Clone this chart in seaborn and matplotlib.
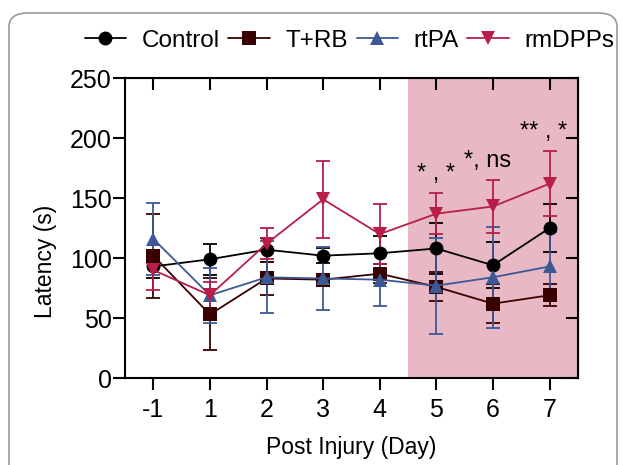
import numpy as np
import pandas as pd
import matplotlib
matplotlib.use('Agg')
import matplotlib.pyplot as plt
import seaborn as sns
from matplotlib.patches import FancyBboxPatch

# values
days = ['-1', '1', '2', '3', '4', '5', '6', '7']
groups = ['Control', 'T+RB', 'rtPA', 'rmDPPs']
control = [93, 99, 107, 102, 104, 108, 94, 125]
control_err = [10, 13, 10, 6, 14, 21, 19, 20]
trb = [102, 53, 83, 82, 87, 76, 62, 69]
trb_err = [35, 30, 14, 4, 8, 12, 16, 9]
rtpa = [116, 69, 84, 83, 82, 77, 84, 93]
rtpa_err = [30, 23, 30, 26, 22, 40, 42, 29]
rmdpps = [90, 69, 112, 149, 120, 137, 143, 162]
rmdpps_err = [17, 11, 13, 32, 25, 17, 22, 27]
stars = {'5': '* , *', '6': '*, ns', '7': '** , *'}

colors = ['#000000', '#3a0000', '#3c5995', '#b81e48']
markers = ['o', 's', '^', 'v']

means = [control, trb, rtpa, rmdpps]
errs = [control_err, trb_err, rtpa_err, rmdpps_err]

rows = []
for g, m, e in zip(groups, means, errs):
    for i, d in enumerate(days):
        rows.append({'group': g, 'pos': i, 'day': d, 'latency': m[i], 'err': e[i]})
df = pd.DataFrame(rows)

sns.set_style('ticks')
plt.rcParams['font.family'] = ['Liberation Sans', 'DejaVu Sans']
plt.rcParams['text.color'] = 'black'
plt.rcParams['axes.labelcolor'] = 'black'
plt.rcParams['xtick.color'] = 'black'
plt.rcParams['ytick.color'] = 'black'

fig = plt.figure(figsize=(6.22, 4.65), dpi=100)
ax = fig.add_axes([0.201, 0.187, 0.728, 0.645])

# shaded treatment window
ax.axvspan(4.5, 7.5, color='#e8b9c5', zorder=0, lw=0)

for g, c in zip(groups, colors):
    sub = df[df.group == g]
    ax.errorbar(sub.pos, sub.latency, yerr=sub.err, fmt='none', ecolor=c,
                elinewidth=1.3, capsize=5, capthick=1.3, zorder=2)

sns.lineplot(data=df, x='pos', y='latency', hue='group', style='group',
             hue_order=groups, style_order=groups, palette=colors,
             markers=dict(zip(groups, markers)), dashes=False,
             markersize=10, markeredgewidth=0, linewidth=1.3, ax=ax, zorder=3)

shift = {'5': 0.0, '6': -0.1, '7': -0.1}
for d, txt in stars.items():
    i = days.index(d)
    top = df[(df.group == 'rmDPPs') & (df.day == d)]
    y = float(top.latency.iloc[0] + top.err.iloc[0])
    ax.text(i + shift[d], y + 7, txt, ha='center', va='bottom', fontsize=17)

ax.set_xlim(-0.5, 7.5)
ax.set_ylim(0, 250)
ax.set_xticks(range(len(days)))
ax.set_xticklabels(days)
ax.set_yticks([0, 50, 100, 150, 200, 250])
ax.set_xlabel('Post Injury (Day)', fontsize=16.5, labelpad=10)
ax.set_ylabel('Latency (s)', fontsize=16.5)
ax.yaxis.set_label_coords(-0.15, 0.39)
ax.tick_params(axis='both', labelsize=18, length=8.5, width=1.5, color='black',
               direction='out')
ax.tick_params(axis='x', pad=6)
ax.tick_params(axis='y', pad=1)
for s in ax.spines.values():
    s.set_linewidth(1.5)
    s.set_color('black')

top_ax = ax.secondary_xaxis('top')
top_ax.set_xticks(range(len(days)))
top_ax.tick_params(direction='in', length=8.5, width=1.5, labeltop=False)
right_ax = ax.secondary_yaxis('right')
right_ax.set_yticks([0, 50, 100, 150, 200, 250])
right_ax.tick_params(direction='in', length=8.5, width=1.5, labelright=False)

handles, labels = ax.get_legend_handles_labels()
ax.legend(handles, labels, loc='center', bbox_to_anchor=(0.496, 1.125),
          ncol=4, frameon=False, fontsize=17.5, handlelength=1.7,
          columnspacing=0.35, handletextpad=0.65, borderaxespad=0,
          borderpad=0)

# rounded frame around the panel
frame = FancyBboxPatch((9 / 622, -0.1), 608 / 622, 1 - 13 / 465 + 0.1,
                       boxstyle='round,pad=0,rounding_size=0.03',
                       transform=fig.transFigure, fill=False,
                       edgecolor='#9a9a9a', lw=1.2, clip_on=False)
fig.patches.append(frame)

fig.savefig('out.png', dpi=100)
